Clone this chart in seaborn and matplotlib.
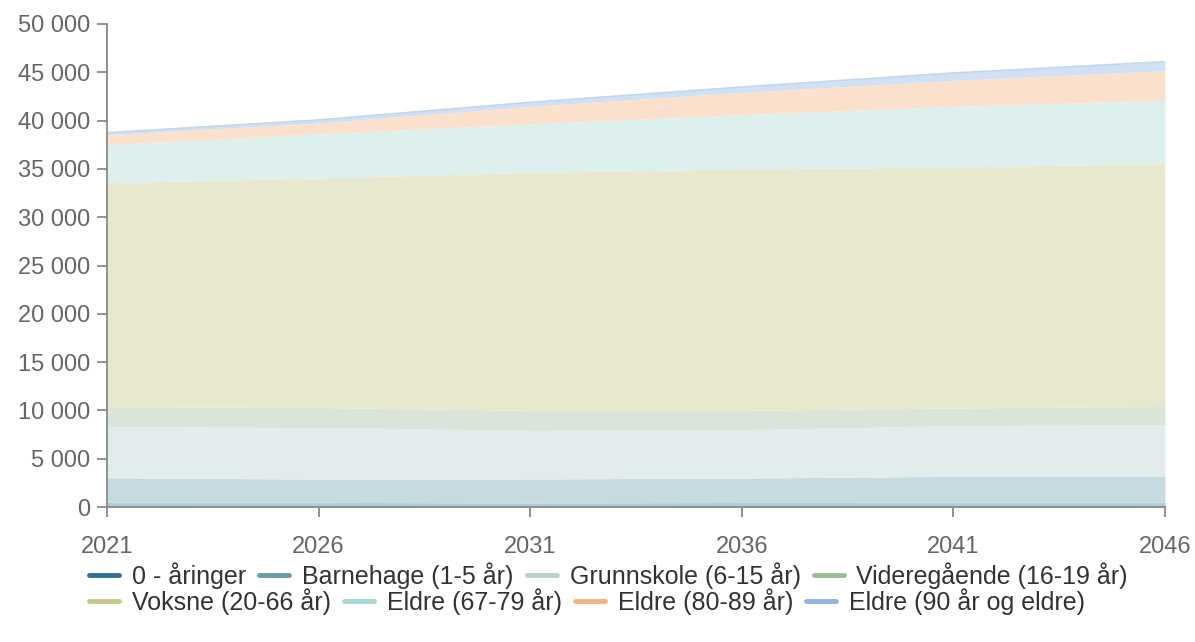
import matplotlib
matplotlib.use("Agg")
import matplotlib.pyplot as plt
import seaborn as sns
import pandas as pd
import numpy as np
from matplotlib.lines import Line2D
from matplotlib.ticker import FuncFormatter, MultipleLocator

years = [2021, 2026, 2031, 2036, 2041, 2046]
series_names = ["0 - åringer", "Barnehage (1-5 år)", "Grunnskole (6-15 år)",
                "Videregående (16-19 år)", "Voksne (20-66 år)", "Eldre (67-79 år)",
                "Eldre (80-89 år)", "Eldre (90 år og eldre)"]
aar0 = [500, 480, 420, 470, 480, 490]
barnehage = [2530, 2410, 2480, 2530, 2690, 2680]
grunnskole = [5280, 5340, 5030, 5000, 5250, 5350]
videregaende = [2070, 2070, 2070, 2000, 1830, 1890]
voksne = [23190, 23760, 24640, 24990, 24950, 25130]
eldre67 = [3930, 4580, 5010, 5620, 6270, 6550]
eldre80 = [1040, 1100, 1820, 2310, 2690, 3080]
eldre90 = [200, 330, 420, 560, 770, 930]

line_colors = ["#2f6f8f", "#6a9bb0", "#b9cfcd", "#97bf94", "#c8c88a", "#a6d9d3", "#f4b482", "#8fb3e6"]
fill_colors = ["#b3cdd8", "#c6dae1", "#e3ecec", "#dae5d9", "#e8e8cf", "#ddf0ee", "#fbe1cc", "#d2e0f3"]

df = pd.DataFrame({"year": years, series_names[0]: aar0, series_names[1]: barnehage,
                   series_names[2]: grunnskole, series_names[3]: videregaende,
                   series_names[4]: voksne, series_names[5]: eldre67,
                   series_names[6]: eldre80, series_names[7]: eldre90})

sns.set_theme(style="white")
plt.rcParams["font.family"] = ["Liberation Sans", "DejaVu Sans"]

fig = plt.figure(figsize=(11.95, 6.42), dpi=100)
ax = fig.add_axes([107/1195, 135/642, (1165-107)/1195, (507-24)/642])

ax.stackplot(df["year"], [df[n] for n in series_names], colors=fill_colors, linewidth=0)
top = df[series_names].sum(axis=1)
sns.lineplot(x=df["year"], y=top, ax=ax, color="#c3d5ee", linewidth=1.2)

ax.set_xlim(2021, 2046)
ax.set_ylim(0, 50000)
ax.yaxis.set_major_locator(MultipleLocator(5000))
ax.set_xticks([2021, 2026, 2031, 2036, 2041, 2046])
ax.yaxis.set_major_formatter(FuncFormatter(lambda v, p: f"{int(v):,}".replace(",", " ")))
ax.set_xlabel("")
ax.set_ylabel("")

for s in ["top", "right"]:
    ax.spines[s].set_visible(False)
for s in ["left", "bottom"]:
    ax.spines[s].set_color("#888888")
    ax.spines[s].set_linewidth(1.3)
ax.tick_params(axis="both", which="both", length=7, width=1.3, color="#888888",
               labelsize=17, labelcolor="#666666", direction="out",
               left=True, bottom=True)
ax.tick_params(axis="y", pad=5)
ax.tick_params(axis="x", pad=14)

handles = [Line2D([0], [0], color=c, lw=3.5) for c in line_colors]
leg_kw = dict(frameon=False, handlelength=1.2, handletextpad=0.52, columnspacing=0.52,
              borderpad=0, borderaxespad=0, fontsize=18, labelcolor="#333333")
leg1 = fig.legend(handles[:4], series_names[:4], ncol=4, loc="upper left",
                  bbox_to_anchor=(89/1195, 1 - 562/642), **leg_kw)
leg2 = fig.legend(handles[4:], series_names[4:], ncol=4, loc="upper left",
                  bbox_to_anchor=(89/1195, 1 - 588/642), **leg_kw)

fig.savefig("out.png", dpi=100)
